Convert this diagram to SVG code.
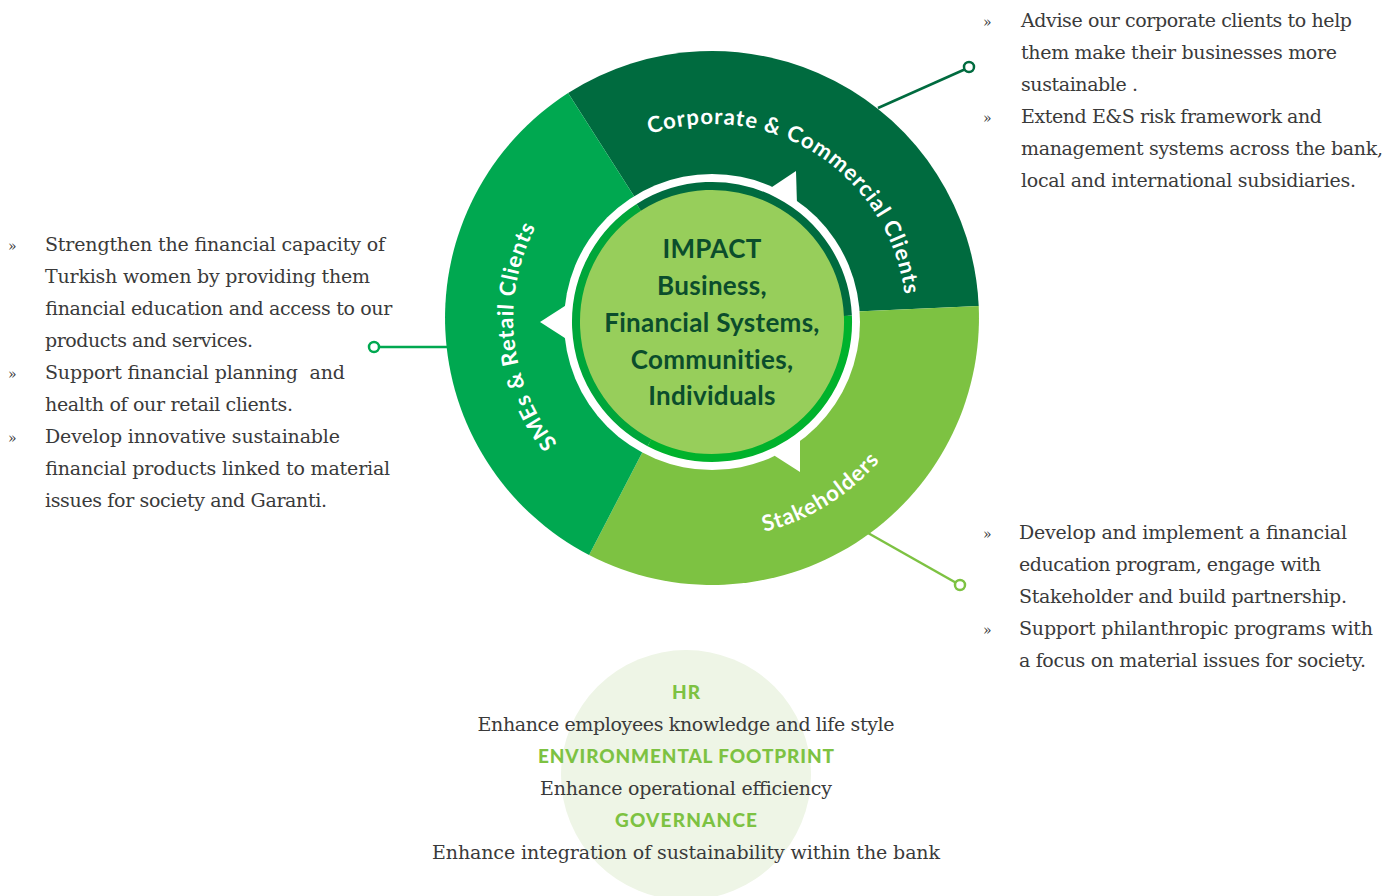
<svg xmlns="http://www.w3.org/2000/svg" width="1384" height="896" viewBox="0 0 1384 896">
<defs>
<style>
.body{font-family:"DejaVu Serif","Liberation Serif",serif;font-size:19px;fill:#3a3a3a;}
.bul{font-family:"DejaVu Serif","Liberation Serif",serif;font-size:14px;fill:#3a3a3a;}
.mid{text-anchor:middle;}
.seg-label{font-family:Lato,"Open Sans",sans-serif;font-weight:700;font-size:22px;fill:#ffffff;letter-spacing:1px;}
.center{font-family:Lato,"Open Sans",sans-serif;font-weight:700;font-size:26px;fill:#0B4D2C;text-anchor:middle;letter-spacing:0.3px;}
.head{font-family:Lato,"Open Sans",sans-serif;font-weight:900;font-size:19px;fill:#7DC242;text-anchor:middle;}
.conn{fill:none;stroke-width:2.5;}
.dot{fill:#ffffff;stroke-width:2.5;}
.ring{fill:none;stroke-width:8;}
</style>
<path id="arc-corp" d="M621.8,146.2 A194,194 0 0 1 905.8,325.8"/>
<path id="arc-sme" d="M630.2,499.3 A198,198 0 0 1 596.4,157.3"/>
<path id="arc-stake" d="M680.6,535.8 A220,220 0 0 0 921,386.7"/>
</defs>

<circle id="bg-bottom-circle" cx="686" cy="775" r="125" fill="#EEF5E6"/>

<g id="node-corporate">
<path d="M712,318 L568.1,93.1 A267,267 0 0 1 978.7,305.9 Z" fill="#006B3F"/>
</g>
<g id="node-stakeholders">
<path d="M712,318 L978.7,305.9 A267,267 0 0 1 589.1,555 Z" fill="#7DC242"/>
</g>
<g id="node-smes">
<path d="M712,318 L589.1,555 A267,267 0 0 1 568.1,93.1 Z" fill="#00A850"/>
</g>

<g id="node-impact">
<circle cx="712" cy="322" r="148" fill="#ffffff"/>
<polygon points="796,171 772,187 772,205 797,205" fill="#ffffff"/>
<polygon points="800,472 775,456 775,440 800,436" fill="#ffffff"/>
<polygon points="540,322 568,304 568,340" fill="#ffffff"/>
<circle cx="712" cy="322" r="136" fill="#97CE5B"/>
<path class="ring" d="M638.7,207.4 A136,136 0 0 1 847.9,315.8" stroke="#006B3F"/>
<path class="ring" d="M847.9,315.8 A136,136 0 0 1 649.4,442.7" stroke="#00B22C"/>
<path class="ring" d="M649.4,442.7 A136,136 0 0 1 638.7,207.4" stroke="#00A63A"/>
<text class="center" x="712" y="258">IMPACT</text>
<text class="center" x="712" y="295">Business,</text>
<text class="center" x="712" y="332">Financial Systems,</text>
<text class="center" x="712" y="369">Communities,</text>
<text class="center" x="712" y="405">Individuals</text>
</g>

<g id="label-corporate">
<text class="seg-label" text-anchor="middle"><textPath href="#arc-corp" startOffset="50%">Corporate &amp; Commercial Clients</textPath></text>
</g>
<g id="label-smes">
<text class="seg-label" text-anchor="middle"><textPath href="#arc-sme" startOffset="50%">SMEs &amp; Retail Clients</textPath></text>
</g>
<g id="label-stakeholders">
<text class="seg-label" text-anchor="middle"><textPath href="#arc-stake" startOffset="50%">Stakeholders</textPath></text>
</g>

<g id="connectors">
<line class="conn" x1="878" y1="108" x2="964.5" y2="69.5" stroke="#006B3F"/>
<circle class="dot" cx="969" cy="67" r="5" stroke="#006B3F"/>
<line class="conn" x1="447" y1="347" x2="379" y2="347" stroke="#00A850"/>
<circle class="dot" cx="374" cy="347" r="5" stroke="#00A850"/>
<line class="conn" x1="868" y1="533" x2="955.5" y2="582.5" stroke="#7DC242"/>
<circle class="dot" cx="960" cy="585" r="5" stroke="#7DC242"/>
</g>

<g id="note-corporate">
<text class="bul" x="983" y="27">»</text>
<text class="bul" x="983" y="123">»</text>
<text class="body" x="1021" y="27" textLength="331">Advise our corporate clients to help</text>
<text class="body" x="1021" y="59" textLength="316">them make their businesses more</text>
<text class="body" x="1021" y="91" textLength="117">sustainable .</text>
<text class="body" x="1021" y="123" textLength="301">Extend E&amp;S risk framework and</text>
<text class="body" x="1021" y="155" textLength="362">management systems across the bank,</text>
<text class="body" x="1021" y="187" textLength="335">local and international subsidiaries.</text>
</g>

<g id="note-smes">
<text class="bul" x="8" y="251">»</text>
<text class="bul" x="8" y="379">»</text>
<text class="bul" x="8" y="443">»</text>
<text class="body" x="45" y="251" textLength="340">Strengthen the financial capacity of</text>
<text class="body" x="45" y="283" textLength="325">Turkish women by providing them</text>
<text class="body" x="45" y="315" textLength="347">financial education and access to our</text>
<text class="body" x="45" y="347" textLength="208">products and services.</text>
<text class="body" x="45" y="379" textLength="300" xml:space="preserve">Support financial planning  and</text>
<text class="body" x="45" y="411" textLength="248">health of our retail clients.</text>
<text class="body" x="45" y="443" textLength="295">Develop innovative sustainable</text>
<text class="body" x="45" y="475" textLength="345">financial products linked to material</text>
<text class="body" x="45" y="507" textLength="282">issues for society and Garanti.</text>
</g>

<g id="note-stakeholders">
<text class="bul" x="983" y="539">»</text>
<text class="bul" x="983" y="635">»</text>
<text class="body" x="1019" y="539" textLength="328">Develop and implement a financial</text>
<text class="body" x="1019" y="571" textLength="302">education program, engage with</text>
<text class="body" x="1019" y="603" textLength="328">Stakeholder and build partnership.</text>
<text class="body" x="1019" y="635" textLength="354">Support philanthropic programs with</text>
<text class="body" x="1019" y="667" textLength="347">a focus on material issues for society.</text>
</g>

<g id="node-internal">
<text class="head" x="686" y="699" textLength="28">HR</text>
<text class="body mid" x="686" y="731" textLength="417">Enhance employees knowledge and life style</text>
<text class="head" x="686" y="763" textLength="296">ENVIRONMENTAL FOOTPRINT</text>
<text class="body mid" x="686" y="795" textLength="292">Enhance operational efficiency</text>
<text class="head" x="686" y="827" textLength="142">GOVERNANCE</text>
<text class="body mid" x="686" y="859" textLength="508">Enhance integration of sustainability within the bank</text>
</g>
</svg>
